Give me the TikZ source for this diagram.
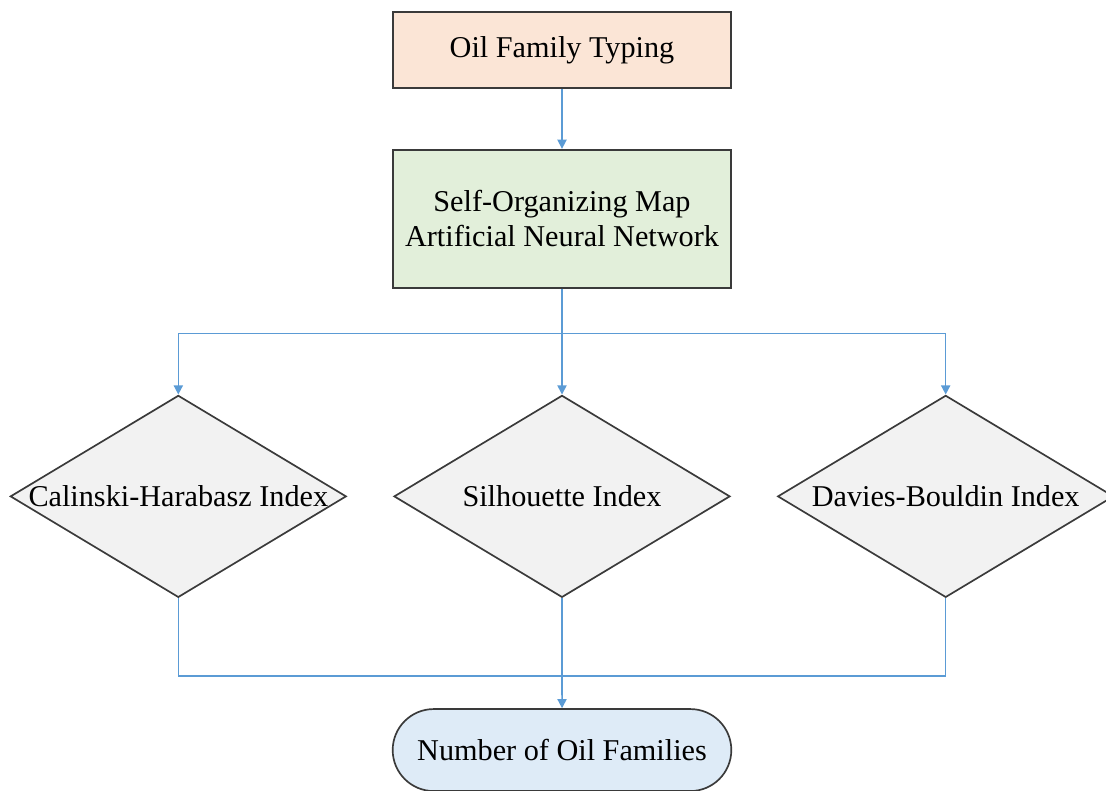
\documentclass[tikz,border=0pt]{standalone}
\usepackage{fontspec}
\setmainfont{Liberation Serif}
\usetikzlibrary{positioning, shapes.geometric, shapes.misc, arrows.meta}

\definecolor{peach}{HTML}{FBE5D6}
\definecolor{mint}{HTML}{E2EFDA}
\definecolor{idxgray}{HTML}{F2F2F2}
\definecolor{paleblue}{HTML}{DEEBF7}
\definecolor{boxline}{HTML}{3A3A3A}
\definecolor{linkblue}{HTML}{5B9BD5}

\begin{document}
\begin{tikzpicture}[
  box/.style={
    rectangle,
    draw=boxline,
    line width=1.2pt,
    minimum width=84.5mm,
    align=center,
    font=\fontsize{21.5}{25}\selectfont},
  idx/.style={
    diamond,
    draw=boxline,
    line width=1.2pt,
    fill=idxgray,
    minimum width=84mm,
    minimum height=50.5mm,
    inner sep=0pt,
    font=\fontsize{21.5}{25}\selectfont},
  link/.style={draw=linkblue, line width=1.1pt},
  arr/.style={link, -{Triangle[width=6.5pt,length=6.5pt]}}
  ]
  \useasboundingbox (0,0) rectangle (27.65,-19.775);

  \node[
  box,
  fill=peach,
  minimum height=19mm] (oft) at (14.05,-1.25) {Oil Family Typing};

  \node[
  box,
  fill=mint,
  minimum height=34.5mm,
  below=15mm of oft] (som) {Self-Organizing Map\\Artificial Neural Network};

  \node[idx, below=26.5mm of som] (si) {\makebox[0pt]{Silhouette Index}};
  \node[idx, left=11.5mm of si] (ch) {\makebox[0pt]{Calinski-Harabasz Index}};
  \node[idx, right=11.5mm of si] (db) {\makebox[0pt]{Davies-Bouldin Index}};

  \node[
  rounded rectangle,
  draw=boxline,
  line width=1.2pt,
  fill=paleblue,
  minimum width=87mm,
  minimum height=20.5mm,
  font=\fontsize{21.5}{25}\selectfont,
  below=27.5mm of si] (nof) {Number of Oil Families};

  \coordinate[below=11.25mm of som] (split);
  \coordinate[above=8mm of nof] (join);

  \draw[arr] (oft) -- (som);
  \draw[link] (som) -- (split);
  \draw[arr] (split) -- (si);
  \draw[arr] (split) -| (ch.north);
  \draw[arr] (split) -| (db.north);
  \draw[link] (ch.south) |- (join);
  \draw[link] (db.south) |- (join);
  \draw[link] (si) -- (join);
  \draw[arr] (join) -- (nof);
\end{tikzpicture}
\end{document}
